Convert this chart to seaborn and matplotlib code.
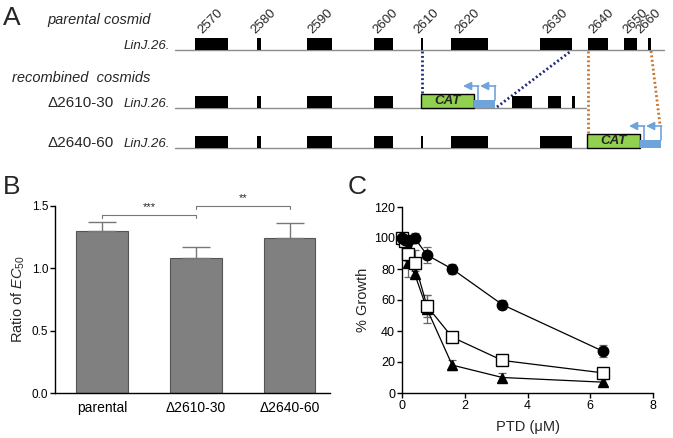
import matplotlib
matplotlib.use("Agg")
import matplotlib.pyplot as plt
from matplotlib.patches import Rectangle
import seaborn as sns
import pandas as pd

# ---------------- Panel A data (diagram units = positions along cosmid) -------------
gene_ids = ['2570', '2580', '2590', '2600', '2610', '2620', '2630', '2640', '2650', '2660']
gene_start = [195, 257, 307, 374, 421, 451, 540, 588, 624, 648]
gene_end = [228, 261, 332, 393, 423, 488, 572, 608, 637, 651]
label_x = [200, 253, 310, 375, 416, 457, 545, 591, 625, 638]
cosmid_start = 175
cosmid_end = 664

# ---------------- Panel B data ----------------
strains = ['parental', 'Δ2610-30', 'Δ2640-60']
ec50_ratio = [1.30, 1.08, 1.24]
ec50_err = [0.07, 0.09, 0.12]

# ---------------- Panel C data ----------------
ptd_conc = [0, 0.1, 0.2, 0.4, 0.8, 1.6, 3.2, 6.4]
growth_parental = [100, 99, 98, 100, 89, 80, 57, 27]
growth_parental_err = [1, 1, 2, 3, 5, 3, 3, 4]
growth_d2610 = [100, 98, 90, 84, 56, 36, 21, 13]
growth_d2610_err = [1, 2, 5, 8, 7, 2, 2, 2]
growth_d2640 = [100, 99, 84, 77, 54, 18, 10, 7]
growth_d2640_err = [1, 2, 9, 2, 9, 3, 3, 2]

sns.set_theme(style="ticks")
plt.rcParams['font.family'] = ['Liberation Sans', 'DejaVu Sans']
plt.rcParams['mathtext.fontset'] = 'custom'
plt.rcParams['mathtext.rm'] = 'Liberation Sans'
plt.rcParams['mathtext.it'] = 'Liberation Sans:italic'
plt.rcParams['axes.linewidth'] = 1.0
plt.rcParams['xtick.major.width'] = 1.0
plt.rcParams['ytick.major.width'] = 1.0
plt.rcParams['xtick.major.size'] = 3.5
plt.rcParams['ytick.major.size'] = 3.5
plt.rcParams['xtick.color'] = 'black'
plt.rcParams['ytick.color'] = 'black'
plt.rcParams['axes.edgecolor'] = 'black'

fig = plt.figure(figsize=(6.73, 4.38), dpi=100)

# ================= Panel A =================
axA = fig.add_axes([0, 0, 1, 1])
axA.set_xlim(0, 673)
axA.set_ylim(438, 0)
axA.axis('off')
axA.patch.set_alpha(0)

GREEN = '#92D050'
BLUE = '#6FA3DC'
NAVY = '#1F2A7A'
ORANGE = '#C8742E'
box_h = 12

def backbone(y, x0, x1):
    axA.plot([x0, x1], [y, y], color='#8c8c8c', lw=1.0, zorder=1)

def gene(x0, x1, y):
    axA.add_patch(Rectangle((x0, y - box_h), x1 - x0, box_h, facecolor='black',
                            edgecolor='none', zorder=3))

def cassette(x0, y):
    cat_w, blue_w = 53, 21
    axA.add_patch(Rectangle((x0, y - 14), cat_w, 14, facecolor=GREEN,
                            edgecolor='black', lw=1.0, zorder=4))
    axA.text(x0 + cat_w / 2, y - 6.5, 'CAT', ha='center', va='center',
             fontsize=9.5, fontweight='bold', fontstyle='italic', zorder=5)
    bx = x0 + cat_w
    axA.add_patch(Rectangle((bx, y - 8.5), blue_w, 8.5, facecolor=BLUE,
                            edgecolor='none', zorder=4))
    # promoter arrows
    for vx, tip in [(bx + 4, bx - 11), (bx + blue_w, bx + 6)]:
        axA.plot([vx, vx], [y - 8.5, y - 22], color=BLUE, lw=1.2, zorder=4)
        axA.annotate('', xy=(tip, y - 22), xytext=(vx + 0.6, y - 22),
                     arrowprops=dict(arrowstyle='-|>,head_length=0.4,head_width=0.2',
                                     color=BLUE, lw=1.2, shrinkA=0, shrinkB=0),
                     zorder=4)
    return bx + blue_w

# Row 1: parental
y1 = 50
backbone(y1, cosmid_start, cosmid_end)
for g, s, e, lx in zip(gene_ids, gene_start, gene_end, label_x):
    gene(s, e, y1)
    axA.text(lx + 2, 34, g, rotation=45, rotation_mode='anchor', ha='left',
             va='baseline', fontsize=9.5)

# Row 2: Δ2610-30
y2 = 108
cat2_x = gene_start[4]
end_cas2 = cassette(cat2_x, y2)
shift2 = end_cas2 + 17 - gene_start[7]
backbone(y2, cosmid_start, gene_end[9] + shift2 + 11)
for s, e in zip(gene_start[:4], gene_end[:4]):
    gene(s, e, y2)
for s, e in zip(gene_start[7:], gene_end[7:]):
    gene(s + shift2, e + shift2, y2)
axA.plot([gene_start[4] + 1, gene_start[4] + 1], [y1 + 1, y2 - 14], color=NAVY,
         lw=2, ls=(0, (0.7, 0.9)), zorder=2)
axA.plot([end_cas2 + 2, gene_end[6] - 1], [y2 - 1, y1 + 1], color=NAVY,
         lw=2, ls=(0, (0.7, 0.9)), zorder=2)

# Row 3: Δ2640-60
y3 = 148
cat3_x = gene_start[7] - 1
backbone(y3, cosmid_start, cat3_x)
end_cas3 = cassette(cat3_x, y3)
for s, e in zip(gene_start[:7], gene_end[:7]):
    gene(s, e, y3)
axA.plot([gene_start[7], gene_start[7]], [y1 + 1, y3 - 15], color=ORANGE,
         lw=2, ls=(0, (0.7, 0.9)), zorder=2)
axA.plot([gene_end[9], end_cas3 - 1], [y1 + 1, y3 - 23], color=ORANGE,
         lw=2, ls=(0, (0.7, 0.9)), zorder=2)

# Text labels for panel A
axA.text(3, 25, 'A', fontsize=19, va='baseline')
axA.text(47, 24, 'parental cosmid', fontsize=10.5, fontstyle='italic', va='baseline')
axA.text(170, y1 - 1, 'LinJ.26.', fontsize=9.5, fontstyle='italic', ha='right', va='baseline')
axA.text(12, 82, 'recombined  cosmids', fontsize=10.5, fontstyle='italic', va='baseline')
axA.text(47, y2 - 1, 'Δ2610-30', fontsize=11, va='baseline')
axA.text(170, y2 - 1, 'LinJ.26.', fontsize=9.5, fontstyle='italic', ha='right', va='baseline')
axA.text(48, y3 - 1, 'Δ2640-60', fontsize=11, va='baseline')
axA.text(170, y3 - 1, 'LinJ.26.', fontsize=9.5, fontstyle='italic', ha='right', va='baseline')
axA.text(3, 194, 'B', fontsize=19, va='baseline')
axA.text(348, 194, 'C', fontsize=19, va='baseline')

# ================= Panel B =================
W, H = 673.0, 438.0
axB = fig.add_axes([55 / W, (H - 393) / H, (330 - 55) / W, (393 - 206) / H])
dfB = pd.DataFrame({'strain': strains, 'ratio': ec50_ratio})
sns.barplot(data=dfB, x='strain', y='ratio', color='#808080', width=0.55,
            saturation=1, edgecolor='#555555', linewidth=0.8, errorbar=None, ax=axB)
axB.errorbar(range(len(strains)), ec50_ratio, yerr=[[0] * 3, ec50_err], fmt='none',
             ecolor='#777777', elinewidth=1.0, capsize=10, capthick=1.0, zorder=1)
axB.set_xlim(-0.5, 2.43)
axB.set_ylim(0, 1.5)
axB.set_yticks([0, 0.5, 1.0, 1.5])
axB.set_yticklabels(['0.0', '0.5', '1.0', '1.5'], fontsize=8.5)
axB.tick_params(axis='x', labelsize=10, length=0, pad=6)
axB.tick_params(axis='y', pad=1.5)
axB.set_xlabel('')
axB.set_ylabel(r'Ratio of $\mathit{EC}_{50}$', fontsize=10.5, labelpad=3)
sns.despine(ax=axB)
# significance brackets
for (a, b, yb, lab, ty) in [(0, 1, 1.428, '***', 1.455), (1, 2, 1.5, '**', 1.527)]:
    axB.plot([a, a, b, b], [yb - 0.025, yb, yb, yb - 0.025], color='#777777',
             lw=0.8, clip_on=False)
    axB.text((a + b) / 2, ty, lab, ha='center', va='bottom', fontsize=8)

# ================= Panel C =================
axC = fig.add_axes([402 / W, (H - 393) / H, (653 - 402) / W, (393 - 207) / H])
series = [
    (growth_d2640, growth_d2640_err, '^', 'black', 7),
    (growth_d2610, growth_d2610_err, 's', 'white', 8),
    (growth_parental, growth_parental_err, 'o', 'black', 7.5),
]
for vals, err, mk, fc, ms in series:
    axC.errorbar(ptd_conc, vals, yerr=err, fmt='none', ecolor='#666666',
                 elinewidth=0.9, capsize=3, capthick=0.9, zorder=2)
    sns.lineplot(x=ptd_conc, y=vals, ax=axC, color='black', lw=0.9, marker=mk,
                 markersize=ms, markerfacecolor=fc, markeredgecolor='black',
                 markeredgewidth=1.0, zorder=3, clip_on=False)
axC.set_xlim(0, 8)
axC.set_ylim(0, 120)
axC.set_xticks([0, 2, 4, 6, 8])
axC.set_yticks([0, 20, 40, 60, 80, 100, 120])
axC.tick_params(axis='both', labelsize=9, pad=1.5)
axC.set_xlabel('PTD (μM)', fontsize=10.5, labelpad=6)
axC.set_ylabel('% Growth', fontsize=10.5, labelpad=3)
sns.despine(ax=axC)

fig.savefig('out.png', dpi=100)
